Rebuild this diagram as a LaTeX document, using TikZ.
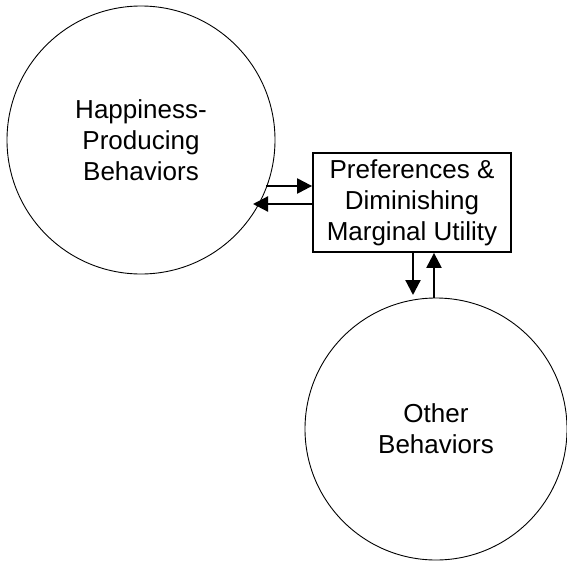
\documentclass[tikz,border=0pt]{standalone}
\usepackage{fontspec}
\setmainfont{Liberation Sans}
\usetikzlibrary{arrows.meta}
\begin{document}
\begin{tikzpicture}[x=1pt,y=-1pt,
  lbl/.style={font=\fontsize{26}{31}\selectfont, align=center},
  circ/.style={circle, draw, line width=0.9pt, inner sep=0pt, lbl},
  boxnode/.style={draw, line width=1.8pt, inner sep=0pt, minimum width=198pt, minimum height=99pt, lbl},
  arr/.style={line width=2.2pt, -{Triangle[length=15pt 0 0,width=15pt 0]}}]
\useasboundingbox (0,0) rectangle (567,560);
\node[circ, minimum size=268pt] (hpb) at (141,140) {Happiness-\\Producing\\Behaviors};
\node[circ, minimum size=262pt] (ob) at (436,429) {Other\\Behaviors};
\node[boxnode] (pref) at (412,202.5) {Preferences \&\\Diminishing\\Marginal Utility};
\coordinate (s1) at (266,186);
\coordinate (t2) at (253,204);
\coordinate (t3) at (413,295);
\coordinate (s4) at (434,298);
\draw[arr] (s1) -- (pref.west |- s1);
\draw[arr] (pref.west |- t2) -- (t2);
\draw[arr] (pref.south -| t3) -- (t3);
\draw[arr] (s4) -- (pref.south -| s4);
\end{tikzpicture}
\end{document}
